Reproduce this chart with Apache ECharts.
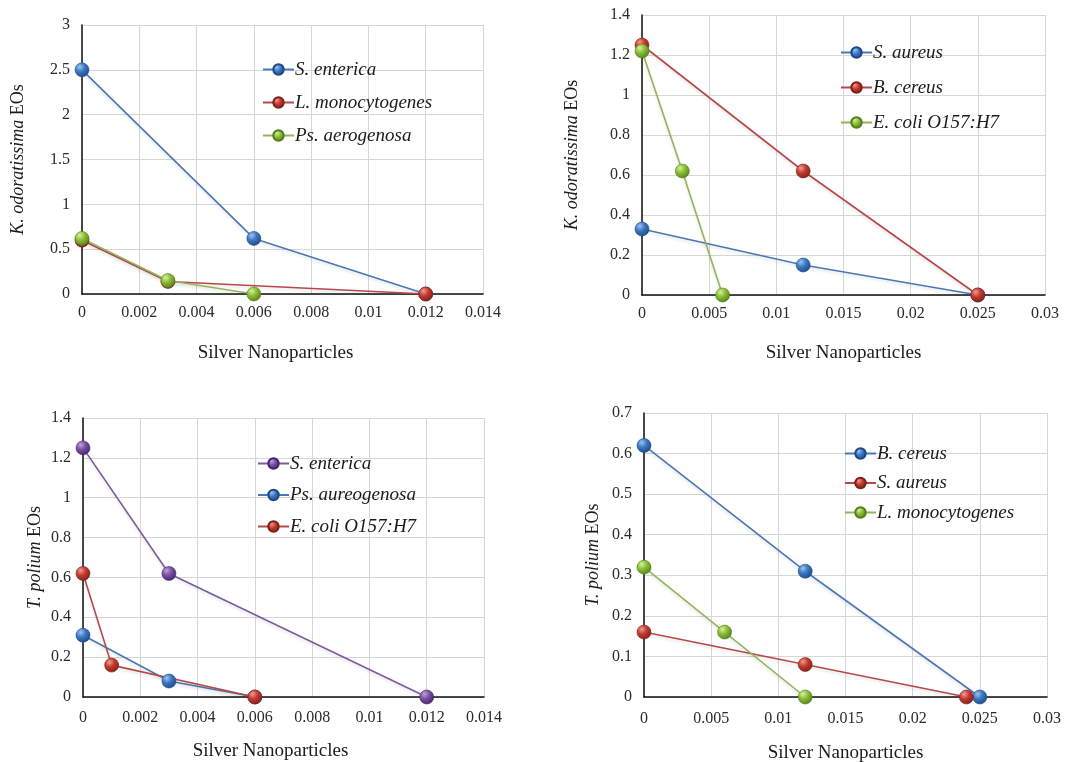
<!DOCTYPE html>
<html>
<head>
<meta charset="utf-8">
<script src="https://cdn.jsdelivr.net/npm/echarts@6/dist/echarts.min.js"></script>
<style>
  html, body { margin: 0; padding: 0; background: #fff; }
  .c { position: absolute; }
</style>
</head>
<body>
<div id="c1" class="c" style="left:0;top:0;width:536px;height:381px"></div>
<div id="c2" class="c" style="left:536px;top:0;width:537px;height:381px"></div>
<div id="c3" class="c" style="left:0;top:381px;width:536px;height:381px"></div>
<div id="c4" class="c" style="left:536px;top:381px;width:537px;height:381px"></div>
<script>
// ---- data ----
// top-left: K. odoratissima EOs
var c1Names = ['S. enterica', 'L. monocytogenes', 'Ps. aerogenosa'];
var c1X = [[0, 0.006, 0.012], [0, 0.003, 0.012], [0, 0.003, 0.006]];
var c1Y = [[2.5, 0.62, 0], [0.6, 0.14, 0], [0.62, 0.15, 0]];

// top-right: K. odoratissima EOs
var c2Names = ['S. aureus', 'B. cereus', 'E. coli O157:H7'];
var c2X = [[0, 0.012, 0.025], [0, 0.012, 0.025], [0, 0.003, 0.006]];
var c2Y = [[0.33, 0.15, 0], [1.25, 0.62, 0], [1.22, 0.62, 0]];

// bottom-left: T. polium EOs
var c3Names = ['S. enterica', 'Ps. aureogenosa', 'E. coli O157:H7'];
var c3X = [[0, 0.003, 0.012], [0, 0.003, 0.006], [0, 0.001, 0.006]];
var c3Y = [[1.25, 0.62, 0], [0.31, 0.08, 0], [0.62, 0.16, 0]];

// bottom-right: T. polium EOs
var c4Names = ['B. cereus', 'S. aureus', 'L. monocytogenes'];
var c4X = [[0, 0.012, 0.025], [0, 0.012, 0.024], [0, 0.006, 0.012]];
var c4Y = [[0.62, 0.31, 0], [0.16, 0.08, 0], [0.32, 0.16, 0]];

// ---- colours ----
var palette = {
  blue:   { line: '#4a78b4', light: '#9cc4f2', mid: '#3b78c2', dark: '#1d4a86' },
  red:    { line: '#b5494a', light: '#f29a90', mid: '#c23a30', dark: '#80201a' },
  green:  { line: '#93b45a', light: '#d4f298', mid: '#8cbc38', dark: '#53801a' },
  purple: { line: '#7b5c9c', light: '#c0a0e0', mid: '#7a4ea2', dark: '#44266a' }
};

var serif = 'Liberation Serif';

function ball(p) {
  return new echarts.graphic.RadialGradient(0.35, 0.3, 0.75, [
    { offset: 0, color: p.light },
    { offset: 0.45, color: p.mid },
    { offset: 1, color: p.dark }
  ]);
}

function fmt(v) { return String(+v.toFixed(4)); }

function build(cfg) {
  var series = cfg.names.map(function (n, i) {
    var p = palette[cfg.colors[i]];
    var pts = cfg.xs[i].map(function (x, j) { return [x, cfg.ys[i][j]]; });
    return {
      name: n,
      type: 'line',
      data: pts,
      symbol: 'circle',
      symbolSize: 14,
      showSymbol: true,
      lineStyle: { color: p.line, width: 1.6, shadowColor: 'rgba(0,0,0,0.12)', shadowBlur: 3, shadowOffsetY: 2 },
      itemStyle: { color: ball(p), borderColor: p.dark, borderWidth: 0.6 }
    };
  });
  return {
    animation: false,
    textStyle: { fontFamily: serif },
    grid: Object.assign({ outerBoundsMode: 'none', containLabel: false }, cfg.grid),
    legend: {
      orient: 'vertical',
      left: cfg.legend.left,
      top: cfg.legend.top,
      padding: 0,
      itemGap: cfg.legend.gap,
      itemWidth: 31,
      itemHeight: 13,
      data: cfg.names,
      textStyle: {
        fontFamily: serif, fontSize: 19, fontStyle: 'italic', color: '#1a1a1a',
        padding: [0, 0, 0, -4]
      }
    },
    xAxis: {
      type: 'value',
      min: 0, max: cfg.xMax, interval: cfg.xInt,
      name: 'Silver Nanoparticles',
      nameLocation: 'middle',
      nameGap: cfg.xNameGap,
      nameMoveOverlap: false,
      nameTextStyle: { fontFamily: serif, fontSize: 19, color: '#1a1a1a', padding: cfg.xNamePad || 0 },
      axisLine: { lineStyle: { color: '#111', width: 1.5 } },
      axisTick: { show: false },
      axisLabel: { margin: cfg.xLabMargin, fontSize: 16, color: '#2a2a2a', fontFamily: serif, formatter: fmt },
      splitLine: { show: true, lineStyle: { color: '#d6d6d6', width: 1 } }
    },
    yAxis: {
      type: 'value',
      min: 0, max: cfg.yMax, interval: cfg.yInt,
      name: '{i|' + cfg.yItalic + '} EOs',
      nameLocation: 'middle',
      nameGap: cfg.yNameGap,
      nameMoveOverlap: false,
      nameTextStyle: {
        fontFamily: serif, fontSize: 18, color: '#1a1a1a',
        rich: { i: { fontFamily: serif, fontSize: 18, fontStyle: 'italic', color: '#1a1a1a' } }
      },
      axisLine: { show: true, lineStyle: { color: '#111', width: 1.5 } },
      axisTick: { show: false },
      axisLabel: { margin: 12, fontSize: 16, color: '#2a2a2a', fontFamily: serif, formatter: fmt },
      splitLine: { show: true, lineStyle: { color: '#d6d6d6', width: 1 } }
    },
    series: series
  };
}

echarts.init(document.getElementById('c1')).setOption(build({
  names: c1Names, xs: c1X, ys: c1Y, colors: ['blue', 'red', 'green'],
  grid: { left: 82, top: 25, right: 53, bottom: 87 },
  legend: { left: 262, top: 60, gap: 14 },
  xMax: 0.014, xInt: 0.002, yMax: 3, yInt: 0.5,
  xNameGap: 50, xNamePad: [0, 14, 0, 0], xLabMargin: 11, yNameGap: 55, yItalic: 'K. odoratissima'
}));

echarts.init(document.getElementById('c2')).setOption(build({
  names: c2Names, xs: c2X, ys: c2Y, colors: ['blue', 'red', 'green'],
  grid: { left: 106, top: 15, right: 28, bottom: 86 },
  legend: { left: 304, top: 43, gap: 16 },
  xMax: 0.03, xInt: 0.005, yMax: 1.4, yInt: 0.2,
  xNameGap: 49, xLabMargin: 11, yNameGap: 61, yItalic: 'K. odoratissima'
}));

echarts.init(document.getElementById('c3')).setOption(build({
  names: c3Names, xs: c3X, ys: c3Y, colors: ['purple', 'blue', 'red'],
  grid: { left: 83, top: 37, right: 52, bottom: 65 },
  legend: { left: 257, top: 73, gap: 12.5 },
  xMax: 0.014, xInt: 0.002, yMax: 1.4, yInt: 0.2,
  xNameGap: 45, xNamePad: [0, 26, 0, 0], xLabMargin: 13, yNameGap: 39, yItalic: 'T. polium'
}));

echarts.init(document.getElementById('c4')).setOption(build({
  names: c4Names, xs: c4X, ys: c4Y, colors: ['blue', 'red', 'green'],
  grid: { left: 108, top: 32, right: 26, bottom: 65 },
  legend: { left: 308, top: 63, gap: 10.5 },
  xMax: 0.03, xInt: 0.005, yMax: 0.7, yInt: 0.1,
  xNameGap: 47, xLabMargin: 14, yNameGap: 42, yItalic: 'T. polium'
}));
</script>
</body>
</html>
